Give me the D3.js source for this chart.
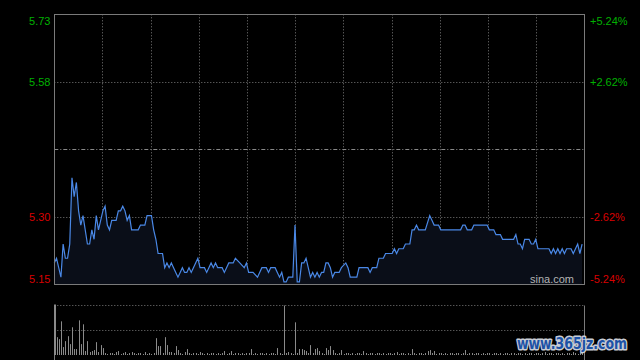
<!DOCTYPE html>
<html>
<head>
<meta charset="UTF-8">
<title>Minute chart</title>
<script src="https://cdnjs.cloudflare.com/ajax/libs/d3/7.8.5/d3.min.js"></script>
<style type="text/css">
html, body { margin: 0; padding: 0; background: #000; }
svg { display: block; }
.lbl { font: 11px "Liberation Sans", Arial, sans-serif; }
</style>
</head>
<body>
<div class="chart"></div>
<script>
// previous close and the percent levels of the axes
var prevClose = 5.44;
var pctTicks = [5.24, 2.62, 0, -2.62, -5.24];

// price turning points: minute index (0 = 9:30) and price
var minutes = [0,1,3,4,5,6,7,8,9,10,11,12,13,15,16,17,18,19,20,22,23,24,25,26,28,29,30,31,32,33,34,35,38,39,41,42,44,45,46,47,48,49,
  50,51,52,53,54,55,56,57,58,59,60,61,62,63,64,65,66,68,69,70,71,72,73,74,76,77,78,79,81,82,84,86,87,88,90,92,93,94,96,97,98,
  100,101,102,103,104,105,106,108,109,110,111,112,113,114,116,117,118,119,120,121,122,123,124,125,126,127,129,130,132,133,134,137,138,
  142,143,144,146,147,149,150,153,154,155,156,158,159,161,162,163,164,165,168,170,171,172,174,175,184,185,186,187,189,190,196,197,199,
  200,202,203,208,209,210,211,212,213,215,216,217,218,219,224,225,226,227,228,229,230,231,232,234,235,236,237,238,239];
var prices = [5.20,5.21,5.17,5.24,5.21,5.21,5.24,5.38,5.34,5.37,5.31,5.28,5.30,5.24,5.24,5.27,5.25,5.30,5.27,5.31,5.32,5.28,5.27,5.29,5.29,5.31,5.31,5.32,5.31,5.29,5.30,5.27,5.27,5.28,5.28,5.30,5.30,5.27,5.25,5.22,5.22,5.22,
  5.19,5.20,5.19,5.20,5.19,5.18,5.17,5.18,5.19,5.18,5.18,5.19,5.18,5.19,5.20,5.21,5.19,5.19,5.18,5.19,5.20,5.19,5.20,5.19,5.19,5.18,5.19,5.20,5.20,5.21,5.20,5.19,5.20,5.18,5.18,5.17,5.18,5.19,5.19,5.18,5.19,
  5.19,5.18,5.17,5.18,5.16,5.16,5.17,5.17,5.28,5.16,5.16,5.20,5.20,5.21,5.17,5.18,5.17,5.18,5.17,5.18,5.18,5.20,5.20,5.19,5.17,5.18,5.18,5.19,5.20,5.19,5.17,5.17,5.19,
  5.19,5.18,5.19,5.19,5.21,5.21,5.22,5.22,5.23,5.22,5.23,5.23,5.24,5.24,5.27,5.27,5.28,5.27,5.27,5.30,5.29,5.28,5.28,5.27,5.27,5.28,5.28,5.27,5.27,5.28,5.28,5.27,5.27,
  5.26,5.26,5.25,5.25,5.26,5.24,5.24,5.23,5.25,5.25,5.24,5.24,5.25,5.23,5.23,5.22,5.23,5.22,5.23,5.22,5.23,5.22,5.23,5.23,5.22,5.23,5.24,5.22,5.24];

// volume per minute (bar heights, arbitrary units)
var volumes = [51,18,16,34,8,14,19,11,28,6,6,35,11,31,4,14,3,4,5,13,
  3,10,7,2,1,2,2,1,3,4,1,2,3,1,2,3,2,1,2,2,
  1,3,1,2,1,2,17,9,9,2,18,10,3,3,2,9,5,2,1,3,
  6,2,1,2,2,1,3,2,1,2,1,2,2,1,2,1,2,4,1,2,
  4,1,2,2,1,2,1,2,2,6,1,2,1,2,2,1,2,1,2,2,
  1,7,2,1,50,2,3,2,1,33,2,6,6,5,4,2,10,2,6,7,
  4,2,1,7,5,9,5,2,1,2,5,1,2,2,1,2,1,2,2,1,
  4,2,1,2,2,1,2,2,1,2,1,2,2,1,2,3,1,2,2,1,
  2,1,6,2,1,2,2,1,2,4,5,2,4,1,2,2,1,2,1,2,
  2,1,2,2,1,2,5,1,2,2,1,2,2,1,2,1,2,2,1,2,
  2,1,2,1,2,2,1,2,2,1,2,2,1,2,1,2,2,1,2,2,
  1,2,3,1,2,2,1,2,2,1,2,1,2,2,1,3,2,1,2,2,1];

var width = 640, height = 360;
var L = 54.3, R = 584.3, T = 14.3, B = 284.3;
var vT = 304.5, vB = 355;
var gridColor = "#7a7a7a";

var svg = d3.select(".chart").append("svg")
    .attr("width", width)
    .attr("height", height)
    .style("background", "#000");

var x = d3.scaleLinear().domain([0, 240]).range([L, R]);
var y = d3.scaleLinear()
    .domain([prevClose * (1 - 0.0524), prevClose * (1 + 0.0524)])
    .range([B, T]);
var yv = d3.scaleLinear().domain([0, 51]).range([vB, vT]);

var px = function (v) { return Math.round(v) + 0.5; };

// vertical grid (11 equal parts)
var vlines = d3.range(1, 11).map(function (k) { return L + (R - L) * k / 11; });
svg.append("g").selectAll("line")
    .data(vlines).enter().append("line")
    .attr("x1", px).attr("x2", px)
    .attr("y1", T).attr("y2", B)
    .attr("stroke", gridColor)
    .attr("stroke-dasharray", "1,2");

// horizontal grid
svg.append("g").selectAll("line")
    .data(pctTicks.filter(function (p) { return Math.abs(p) < 5; }))
    .enter().append("line")
    .attr("x1", L).attr("x2", R)
    .attr("y1", function (p) { return px(y(prevClose * (1 + p / 100))); })
    .attr("y2", function (p) { return px(y(prevClose * (1 + p / 100))); })
    .attr("stroke", function (p) { return p === 0 ? "#8a8a8a" : gridColor; })
    .attr("stroke-dasharray", function (p) { return p === 0 ? "4,2,1,2" : "1,2"; });

var pts = minutes.map(function (m, i) { return [m, prices[i]]; });

var area = d3.area()
    .x(function (d) { return x(d[0]); })
    .y0(B)
    .y1(function (d) { return y(d[1]); });

var line = d3.line()
    .x(function (d) { return x(d[0]); })
    .y(function (d) { return y(d[1]); });

svg.append("path")
    .attr("d", area(pts))
    .attr("fill", "#0a0e18");

svg.append("path")
    .attr("d", line(pts))
    .attr("fill", "none")
    .attr("stroke", "#4a88e6")
    .attr("stroke-width", 1.2);

// frame
svg.append("rect")
    .attr("x", px(L)).attr("y", px(T))
    .attr("width", Math.round(R) - Math.round(L))
    .attr("height", Math.round(B) - Math.round(T))
    .attr("fill", "none")
    .attr("stroke", gridColor);

// axis labels
function lblY(p) {
    var v = y(prevClose * (1 + p / 100)) + 4;
    return Math.max(25, Math.min(282.5, v));
}
function lblColor(p) { return p > 0 ? "#00b000" : "#d80000"; }

svg.append("g").selectAll("text")
    .data(pctTicks.filter(function (p) { return p !== 0; }))
    .enter().append("text")
    .attr("class", "lbl")
    .attr("x", 50.5)
    .attr("y", lblY)
    .attr("text-anchor", "end")
    .attr("fill", lblColor)
    .text(function (p) { return (prevClose * (1 + p / 100)).toFixed(2); });

svg.append("g").selectAll("text")
    .data(pctTicks.filter(function (p) { return p !== 0; }))
    .enter().append("text")
    .attr("class", "lbl")
    .attr("x", 590)
    .attr("y", lblY)
    .attr("fill", lblColor)
    .text(function (p) { return (p > 0 ? "+" : "") + p.toFixed(2) + "%"; });

svg.append("text")
    .attr("class", "lbl")
    .attr("x", 574).attr("y", 282.5)
    .attr("text-anchor", "end")
    .attr("fill", "#b4b4b4")
    .text("sina.com");

// volume panel
svg.append("g").selectAll("line")
    .data([vT, (vT + vB) / 2])
    .enter().append("line")
    .attr("x1", L).attr("x2", R)
    .attr("y1", px).attr("y2", px)
    .attr("stroke", gridColor)
    .attr("stroke-dasharray", "1,2");

svg.append("g").selectAll("line")
    .data([L, R])
    .enter().append("line")
    .attr("x1", px).attr("x2", px)
    .attr("y1", px(vT)).attr("y2", height)
    .attr("stroke", gridColor);

svg.append("g").selectAll("rect")
    .data(volumes)
    .enter().append("rect")
    .attr("x", function (d, i) { return Math.round(x(i)); })
    .attr("y", function (d) { return yv(d); })
    .attr("width", function (d, i) { return i === 0 ? 2 : 1; })
    .attr("height", function (d) { return vB - yv(d); })
    .attr("fill", "#8a8a8a");

// watermark
svg.append("text")
    .attr("x", 517).attr("y", 349)
    .attr("textLength", 110)
    .attr("lengthAdjust", "spacingAndGlyphs")
    .style("font", "bold 15px 'DejaVu Sans', sans-serif")
    .style("paint-order", "stroke")
    .attr("fill", "#1c52a6")
    .attr("stroke", "#c8ccd4")
    .attr("stroke-width", 3)
    .attr("stroke-linejoin", "round")
    .text("www.365jz.com");
</script>
</body>
</html>
